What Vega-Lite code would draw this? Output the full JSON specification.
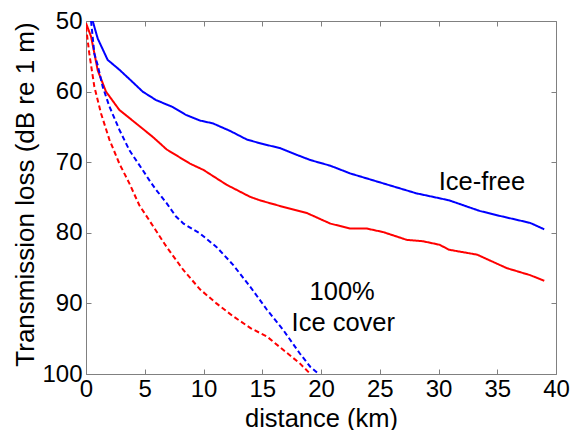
{
  "$schema": "https://vega.github.io/schema/vega-lite/v6.json",
  "width": 470,
  "height": 353,
  "autosize": "none",
  "padding": {"left": 86, "top": 21, "right": 16, "bottom": 56},
  "background": "white",
  "config": {
    "font": "Liberation Sans",
    "view": {"stroke": "#808080", "strokeWidth": 1},
    "axis": {
      "labelFont": "Liberation Sans",
      "labelFontSize": 24,
      "labelColor": "black",
      "labelFlush": false,
      "labelOverlap": false,
      "titleFont": "Liberation Sans",
      "titleFontSize": 25.5,
      "titleFontWeight": "normal",
      "titleColor": "black",
      "grid": false,
      "domain": false,
      "tickColor": "#808080",
      "tickWidth": 1,
      "tickSize": -5
    }
  },
  "datasets": {
    "curves": [
      {"run": "1", "ice": "Ice-free", "km": 0.57, "tl": 50.0},
      {"run": "1", "ice": "Ice-free", "km": 1.0, "tl": 52.5},
      {"run": "1", "ice": "Ice-free", "km": 1.84, "tl": 55.5},
      {"run": "1", "ice": "Ice-free", "km": 2.84, "tl": 56.9},
      {"run": "1", "ice": "Ice-free", "km": 4.0, "tl": 58.7},
      {"run": "1", "ice": "Ice-free", "km": 4.82, "tl": 60.0},
      {"run": "1", "ice": "Ice-free", "km": 5.96, "tl": 61.2},
      {"run": "1", "ice": "Ice-free", "km": 7.4, "tl": 62.2},
      {"run": "1", "ice": "Ice-free", "km": 8.5, "tl": 63.3},
      {"run": "1", "ice": "Ice-free", "km": 9.7, "tl": 64.1},
      {"run": "1", "ice": "Ice-free", "km": 10.8, "tl": 64.5},
      {"run": "1", "ice": "Ice-free", "km": 12.3, "tl": 65.6},
      {"run": "1", "ice": "Ice-free", "km": 13.7, "tl": 66.8},
      {"run": "1", "ice": "Ice-free", "km": 15.0, "tl": 67.4},
      {"run": "1", "ice": "Ice-free", "km": 16.5, "tl": 68.0},
      {"run": "1", "ice": "Ice-free", "km": 18.0, "tl": 69.0},
      {"run": "1", "ice": "Ice-free", "km": 19.1, "tl": 69.7},
      {"run": "1", "ice": "Ice-free", "km": 20.8, "tl": 70.5},
      {"run": "1", "ice": "Ice-free", "km": 22.5, "tl": 71.6},
      {"run": "1", "ice": "Ice-free", "km": 25.3, "tl": 73.0},
      {"run": "1", "ice": "Ice-free", "km": 28.1, "tl": 74.4},
      {"run": "1", "ice": "Ice-free", "km": 30.9, "tl": 75.4},
      {"run": "1", "ice": "Ice-free", "km": 33.5, "tl": 76.9},
      {"run": "1", "ice": "Ice-free", "km": 35.2, "tl": 77.6},
      {"run": "1", "ice": "Ice-free", "km": 37.8, "tl": 78.6},
      {"run": "1", "ice": "Ice-free", "km": 39.0, "tl": 79.5},

      {"run": "2", "ice": "Ice-free", "km": 0.0, "tl": 50.3},
      {"run": "2", "ice": "Ice-free", "km": 0.43, "tl": 52.2},
      {"run": "2", "ice": "Ice-free", "km": 1.0, "tl": 57.0},
      {"run": "2", "ice": "Ice-free", "km": 1.7, "tl": 60.0},
      {"run": "2", "ice": "Ice-free", "km": 2.84, "tl": 62.6},
      {"run": "2", "ice": "Ice-free", "km": 4.26, "tl": 64.5},
      {"run": "2", "ice": "Ice-free", "km": 5.67, "tl": 66.4},
      {"run": "2", "ice": "Ice-free", "km": 6.87, "tl": 68.2},
      {"run": "2", "ice": "Ice-free", "km": 8.85, "tl": 70.2},
      {"run": "2", "ice": "Ice-free", "km": 10.0, "tl": 71.1},
      {"run": "2", "ice": "Ice-free", "km": 11.97, "tl": 73.2},
      {"run": "2", "ice": "Ice-free", "km": 13.96, "tl": 74.9},
      {"run": "2", "ice": "Ice-free", "km": 14.8, "tl": 75.4},
      {"run": "2", "ice": "Ice-free", "km": 16.5, "tl": 76.2},
      {"run": "2", "ice": "Ice-free", "km": 18.8, "tl": 77.2},
      {"run": "2", "ice": "Ice-free", "km": 20.8, "tl": 78.7},
      {"run": "2", "ice": "Ice-free", "km": 22.5, "tl": 79.4},
      {"run": "2", "ice": "Ice-free", "km": 23.9, "tl": 79.4},
      {"run": "2", "ice": "Ice-free", "km": 25.3, "tl": 79.9},
      {"run": "2", "ice": "Ice-free", "km": 27.3, "tl": 81.0},
      {"run": "2", "ice": "Ice-free", "km": 28.7, "tl": 81.2},
      {"run": "2", "ice": "Ice-free", "km": 30.1, "tl": 81.7},
      {"run": "2", "ice": "Ice-free", "km": 30.9, "tl": 82.4},
      {"run": "2", "ice": "Ice-free", "km": 33.3, "tl": 83.1},
      {"run": "2", "ice": "Ice-free", "km": 35.8, "tl": 85.0},
      {"run": "2", "ice": "Ice-free", "km": 37.8, "tl": 86.0},
      {"run": "2", "ice": "Ice-free", "km": 39.0, "tl": 86.8},

      {"run": "1", "ice": "Ice cover", "km": 0.43, "tl": 50.0},
      {"run": "1", "ice": "Ice cover", "km": 0.71, "tl": 54.6},
      {"run": "1", "ice": "Ice cover", "km": 1.0, "tl": 56.3},
      {"run": "1", "ice": "Ice cover", "km": 1.42, "tl": 59.3},
      {"run": "1", "ice": "Ice cover", "km": 1.99, "tl": 62.1},
      {"run": "1", "ice": "Ice cover", "km": 2.84, "tl": 65.4},
      {"run": "1", "ice": "Ice cover", "km": 3.69, "tl": 68.3},
      {"run": "1", "ice": "Ice cover", "km": 4.82, "tl": 71.1},
      {"run": "1", "ice": "Ice cover", "km": 5.45, "tl": 72.7},
      {"run": "1", "ice": "Ice cover", "km": 5.96, "tl": 73.9},
      {"run": "1", "ice": "Ice cover", "km": 6.86, "tl": 75.8},
      {"run": "1", "ice": "Ice cover", "km": 7.66, "tl": 77.7},
      {"run": "1", "ice": "Ice cover", "km": 8.3, "tl": 78.7},
      {"run": "1", "ice": "Ice cover", "km": 9.7, "tl": 80.1},
      {"run": "1", "ice": "Ice cover", "km": 11.1, "tl": 82.0},
      {"run": "1", "ice": "Ice cover", "km": 12.5, "tl": 84.5},
      {"run": "1", "ice": "Ice cover", "km": 14.0, "tl": 87.7},
      {"run": "1", "ice": "Ice cover", "km": 15.4, "tl": 90.9},
      {"run": "1", "ice": "Ice cover", "km": 16.8, "tl": 93.8},
      {"run": "1", "ice": "Ice cover", "km": 18.2, "tl": 97.1},
      {"run": "1", "ice": "Ice cover", "km": 19.1, "tl": 99.0},
      {"run": "1", "ice": "Ice cover", "km": 19.8, "tl": 100.0},

      {"run": "2", "ice": "Ice cover", "km": 0.0, "tl": 50.8},
      {"run": "2", "ice": "Ice cover", "km": 0.28, "tl": 54.6},
      {"run": "2", "ice": "Ice cover", "km": 0.71, "tl": 59.3},
      {"run": "2", "ice": "Ice cover", "km": 1.28, "tl": 63.1},
      {"run": "2", "ice": "Ice cover", "km": 1.99, "tl": 66.8},
      {"run": "2", "ice": "Ice cover", "km": 2.84, "tl": 70.2},
      {"run": "2", "ice": "Ice cover", "km": 3.69, "tl": 73.0},
      {"run": "2", "ice": "Ice cover", "km": 4.54, "tl": 76.1},
      {"run": "2", "ice": "Ice cover", "km": 5.45, "tl": 78.4},
      {"run": "2", "ice": "Ice cover", "km": 6.86, "tl": 82.0},
      {"run": "2", "ice": "Ice cover", "km": 8.3, "tl": 85.3},
      {"run": "2", "ice": "Ice cover", "km": 9.7, "tl": 88.0},
      {"run": "2", "ice": "Ice cover", "km": 11.1, "tl": 90.0},
      {"run": "2", "ice": "Ice cover", "km": 12.5, "tl": 91.8},
      {"run": "2", "ice": "Ice cover", "km": 14.0, "tl": 93.5},
      {"run": "2", "ice": "Ice cover", "km": 15.4, "tl": 94.7},
      {"run": "2", "ice": "Ice cover", "km": 16.8, "tl": 96.6},
      {"run": "2", "ice": "Ice cover", "km": 18.2, "tl": 98.5},
      {"run": "2", "ice": "Ice cover", "km": 19.1, "tl": 100.0}
    ],
    "notes": [
      {"km": 33.7, "tl": 72.8, "label": "Ice-free"},
      {"km": 21.8, "tl": 88.4, "label": "100%"},
      {"km": 21.9, "tl": 92.8, "label": "Ice cover"}
    ]
  },
  "layer": [
    {
      "data": {"name": "curves"},
      "mark": {"type": "line", "strokeWidth": 2, "clip": true},
      "encoding": {
        "x": {
          "field": "km", "type": "quantitative",
          "scale": {"domain": [0, 40], "nice": false},
          "axis": {
            "orient": "bottom",
            "values": [0, 5, 10, 15, 20, 25, 30, 35, 40],
            "labelPadding": 8,
            "title": "distance (km)",
            "titleX": 235,
            "titleY": 52,
            "titleBaseline": "alphabetic"
          }
        },
        "y": {
          "field": "tl", "type": "quantitative",
          "scale": {"domain": [50, 100], "reverse": true, "nice": false, "zero": false},
          "axis": {
            "orient": "left",
            "values": [50, 60, 70, 80, 90, 100],
            "labelPadding": 9,
            "title": "Transmission loss (dB re 1 m)",
            "titleFontSize": 26,
            "titleX": -61,
            "titleY": 173,
            "titleAngle": -90,
            "titleAlign": "center",
            "titleBaseline": "middle"
          }
        },
        "color": {
          "field": "run", "type": "nominal",
          "scale": {"domain": ["1", "2"], "range": ["#0000ff", "#ff0000"]},
          "legend": null
        },
        "strokeDash": {
          "field": "ice", "type": "nominal",
          "scale": {"domain": ["Ice-free", "Ice cover"], "range": [[1, 0], [5, 3]]},
          "legend": null
        }
      }
    },
    {
      "data": {"name": "curves"},
      "mark": {"type": "line", "opacity": 0},
      "encoding": {
        "x": {
          "field": "km", "type": "quantitative",
          "scale": {"domain": [0, 40], "nice": false},
          "axis": {"orient": "top", "values": [0, 5, 10, 15, 20, 25, 30, 35, 40], "labels": false, "title": null}
        },
        "y": {
          "field": "tl", "type": "quantitative",
          "scale": {"domain": [50, 100], "reverse": true, "nice": false, "zero": false},
          "axis": {"orient": "right", "values": [50, 60, 70, 80, 90, 100], "labels": false, "title": null}
        },
        "detail": {"field": "run"}
      }
    },
    {
      "data": {"name": "notes"},
      "mark": {"type": "text", "font": "Liberation Sans", "fontSize": 25.5, "color": "black", "baseline": "middle", "align": "center"},
      "encoding": {
        "x": {"field": "km", "type": "quantitative", "scale": {"domain": [0, 40], "nice": false}, "axis": null},
        "y": {"field": "tl", "type": "quantitative", "scale": {"domain": [50, 100], "reverse": true, "nice": false, "zero": false}, "axis": null},
        "text": {"field": "label"}
      }
    }
  ],
  "resolve": {"axis": {"x": "independent", "y": "independent"}}
}
